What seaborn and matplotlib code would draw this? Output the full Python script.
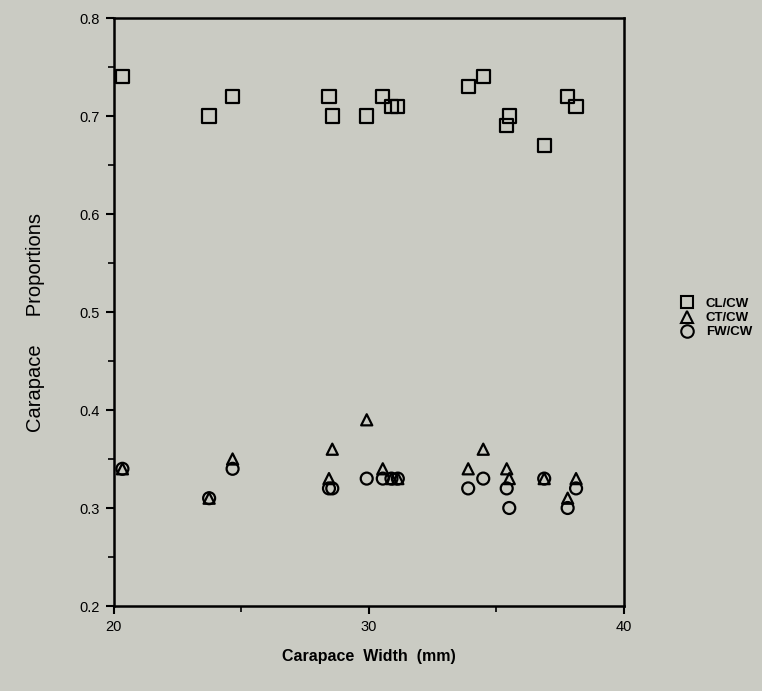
import matplotlib
matplotlib.use("Agg")
import matplotlib.pyplot as plt
from matplotlib.lines import Line2D
from matplotlib.ticker import MultipleLocator
import seaborn as sns
import pandas as pd

# Data (carapace width in mm, proportions)
width = [20.35, 23.75, 24.67, 28.45, 28.58, 29.93, 30.56, 30.90, 31.15,
         33.91, 34.50, 35.42, 35.52, 36.89, 37.81, 38.14]
cl_cw = [0.74, 0.70, 0.72, 0.72, 0.70, 0.70, 0.72, 0.71, 0.71,
         0.73, 0.74, 0.69, 0.70, 0.67, 0.72, 0.71]
ct_cw = [0.34, 0.31, 0.35, 0.33, 0.36, 0.39, 0.34, 0.33, 0.33,
         0.34, 0.36, 0.34, 0.33, 0.33, 0.31, 0.33]
fw_cw = [0.34, 0.31, 0.34, 0.32, 0.32, 0.33, 0.33, 0.33, 0.33,
         0.32, 0.33, 0.32, 0.30, 0.33, 0.30, 0.32]
series_names = ["CL/CW", "CT/CW", "FW/CW"]
x_ticks = [20, 30, 40]
y_ticks = [0.2, 0.3, 0.4, 0.5, 0.6, 0.7, 0.8]

bg = "#cacbc3"
sns.set_style("ticks")
plt.rcParams["font.family"] = ["Liberation Sans", "DejaVu Sans"]
plt.rcParams["text.color"] = "black"
plt.rcParams["axes.labelcolor"] = "black"
plt.rcParams["xtick.color"] = "black"
plt.rcParams["ytick.color"] = "black"

fig = plt.figure(figsize=(7.62, 6.91), dpi=100, facecolor=bg)
ax = fig.add_axes([113.5 / 762, 1 - 606 / 691, 510 / 762, 588 / 691])
ax.set_facecolor(bg)

df = pd.DataFrame({"width": width, "CL/CW": cl_cw, "CT/CW": ct_cw, "FW/CW": fw_cw})
markers = {"CL/CW": "s", "CT/CW": "^", "FW/CW": "o"}
sizes = {"CL/CW": 92, "CT/CW": 64, "FW/CW": 74}
for name in series_names:
    sns.scatterplot(data=df, x="width", y=name, marker=markers[name], s=sizes[name],
                    facecolor="none", edgecolor="black", linewidth=1.6, ax=ax,
                    zorder=3, clip_on=False)

ax.set_xlim(20, 40)
ax.set_ylim(0.2, 0.8)
ax.set_xticks(x_ticks)
ax.set_yticks(y_ticks)
ax.set_xticklabels([str(t) for t in x_ticks])
ax.set_yticklabels([f"{t:.1f}" for t in y_ticks])
ax.xaxis.set_minor_locator(MultipleLocator(5))
ax.yaxis.set_minor_locator(MultipleLocator(0.05))
ax.tick_params(which="major", direction="out", length=6, width=1.5, labelsize=10.5,
               colors="black", labelcolor="black", pad=4)
ax.tick_params(which="minor", direction="out", length=4, width=1.2, colors="black")
for s in ax.spines.values():
    s.set_linewidth(1.8)
    s.set_color("black")
    s.set_visible(True)

ax.set_xlabel("")
ax.set_ylabel("")
fig.text(369 / 762, 1 - 656 / 691, "Carapace  Width  (mm)", ha="center", va="center",
         fontsize=11.5, fontweight="bold", color="black")
fig.text(36 / 762, 1 - 322 / 691, "Carapace     Proportions", ha="center", va="center",
         rotation=90, fontsize=14.5, color="black")

handles = [Line2D([], [], linestyle="none", marker=markers[n], markersize=9,
                  markerfacecolor="none", markeredgecolor="black", markeredgewidth=1.5)
           for n in series_names]
leg = fig.legend(handles, series_names, loc="center left",
                 bbox_to_anchor=(674 / 762, 1 - 318 / 691), frameon=False,
                 handlelength=1.0, handletextpad=0.9, labelspacing=0.15,
                 borderpad=0, prop={"weight": "bold", "size": 9.5})
for t in leg.get_texts():
    t.set_color("black")

fig.savefig("out.png", dpi=100, facecolor=bg)
